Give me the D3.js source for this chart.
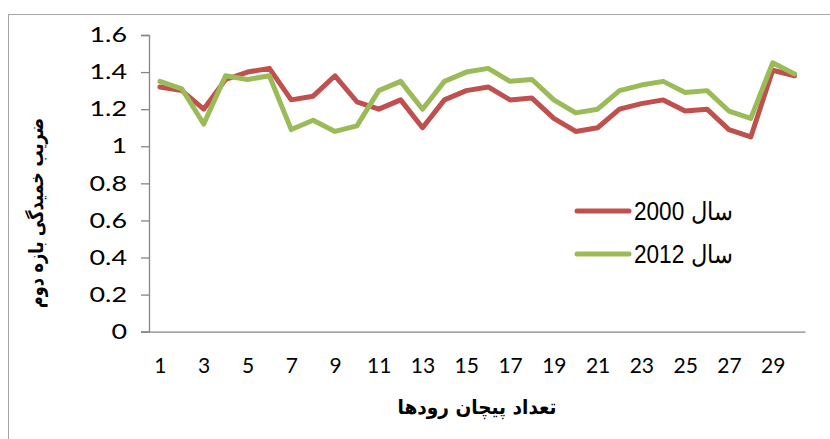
<!DOCTYPE html>
<html>
<head>
<meta charset="utf-8">
<script src="https://cdn.jsdelivr.net/npm/d3@7"></script>
<style>
  html, body { margin: 0; padding: 0; background: #fff; }
  svg { display: block; }
</style>
</head>
<body>
<svg id="chart" width="830" height="439"></svg>
<script>
// ---- data ----
const categories = d3.range(1, 31);
const series2000 = [1.32, 1.30, 1.20, 1.36, 1.40, 1.42, 1.25, 1.27, 1.38, 1.24,
                    1.20, 1.25, 1.10, 1.25, 1.30, 1.32, 1.25, 1.26, 1.15, 1.08,
                    1.10, 1.20, 1.23, 1.25, 1.19, 1.20, 1.09, 1.05, 1.41, 1.38];
const series2012 = [1.35, 1.31, 1.12, 1.38, 1.36, 1.38, 1.09, 1.14, 1.08, 1.11,
                    1.30, 1.35, 1.20, 1.35, 1.40, 1.42, 1.35, 1.36, 1.25, 1.18,
                    1.20, 1.30, 1.33, 1.35, 1.29, 1.30, 1.19, 1.15, 1.45, 1.39];
const seriesNames = ["سال 2000", "سال 2012"];
const seriesColors = ["#C0504D", "#9BBB59"];
const yTicks = [0, 0.2, 0.4, 0.6, 0.8, 1, 1.2, 1.4, 1.6];
const yTickLabels = ["0", "0.2", "0.4", "0.6", "0.8", "1", "1.2", "1.4", "1.6"];
const xTickValues = categories.filter(d => d % 2 === 1);
const yTitle = "ضریب خمیدگی بازه دوم";
const xTitle = "تعداد پیچان رودها";

// ---- layout ----
const svg = d3.select("#chart");
const plot = { left: 149, right: 805.5, top: 35, bottom: 331.7 };

// outer frame
svg.append("rect")
  .attr("x", 8.5).attr("y", 14.5)
  .attr("width", 900).attr("height", 500)
  .attr("fill", "none").attr("stroke", "#a6a6a6").attr("stroke-width", 1);

const x = d3.scalePoint().domain(categories).range([plot.left, plot.right]).padding(0.5);
const y = d3.scaleLinear().domain([0, 1.6]).range([plot.bottom, plot.top]);

// y axis
const yAxis = svg.append("g")
  .attr("transform", `translate(${plot.left},0)`)
  .call(d3.axisLeft(y).tickValues(yTicks).tickSize(8).tickPadding(13)
        .tickFormat((d, i) => yTickLabels[i]));
yAxis.select(".domain").attr("stroke", "#868686").attr("stroke-width", 1.3);
yAxis.selectAll(".tick line").attr("stroke", "#868686").attr("stroke-width", 1.3);
yAxis.selectAll(".tick text")
  .attr("x", 0)
  .attr("transform", "translate(-22,0) scale(1.28,1)")
  .attr("font-family", "Lato, 'Open Sans', sans-serif")
  .attr("font-size", 21).attr("fill", "#000");

// x axis
const xAxis = svg.append("g")
  .attr("transform", `translate(0,${plot.bottom})`)
  .call(d3.axisBottom(x).tickValues(xTickValues).tickSize(0).tickPadding(26).tickSizeOuter(0));
xAxis.select(".domain").attr("stroke", "#868686").attr("stroke-width", 1.3)
  .attr("d", `M${plot.left - 8},0.5H${plot.right}`);
xAxis.selectAll(".tick text")
  .attr("font-family", "Lato, 'Open Sans', sans-serif")
  .attr("font-size", 21).attr("fill", "#000");

// lines
const line = d3.line().x((d, i) => x(categories[i])).y(d => y(d));
[series2000, series2012].forEach((s, k) => {
  svg.append("path")
    .datum(s)
    .attr("d", line)
    .attr("fill", "none")
    .attr("stroke", seriesColors[k])
    .attr("stroke-width", 5)
    .attr("stroke-linejoin", "round")
    .attr("stroke-linecap", "round");
});

// legend
const legend = svg.append("g");
seriesNames.forEach((name, k) => {
  const ly = 211 + k * 43;
  legend.append("line")
    .attr("x1", 577).attr("x2", 629).attr("y1", ly).attr("y2", ly)
    .attr("stroke", seriesColors[k]).attr("stroke-width", 5)
    .attr("stroke-linecap", "round");
  legend.append("text")
    .attr("x", 733).attr("y", ly + 9)
    .attr("direction", "rtl")
    .attr("text-anchor", "start")
    .attr("font-family", "'Liberation Sans', Arial, sans-serif")
    .attr("font-size", 25)
    .attr("textLength", 99)
    .attr("lengthAdjust", "spacingAndGlyphs")
    .attr("fill", "#000")
    .text(name);
});

// axis titles
svg.append("text")
  .attr("transform", "translate(43,213) rotate(-90)")
  .attr("text-anchor", "middle")
  .attr("direction", "rtl")
  .attr("font-family", "'DejaVu Sans', sans-serif")
  .attr("font-weight", "bold")
  .attr("font-size", 20)
  .attr("textLength", 190)
  .attr("lengthAdjust", "spacingAndGlyphs")
  .attr("fill", "#000")
  .text(yTitle);

svg.append("text")
  .attr("x", 477).attr("y", 414)
  .attr("text-anchor", "middle")
  .attr("direction", "rtl")
  .attr("font-family", "'DejaVu Sans', sans-serif")
  .attr("font-weight", "bold")
  .attr("font-size", 20)
  .attr("textLength", 159)
  .attr("lengthAdjust", "spacingAndGlyphs")
  .attr("fill", "#000")
  .text(xTitle);
</script>
</body>
</html>
